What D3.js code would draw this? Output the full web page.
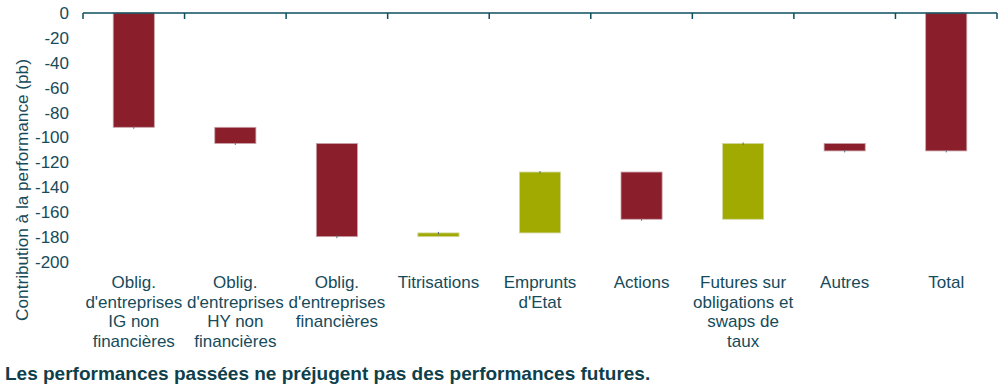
<!DOCTYPE html>
<html><head><meta charset="utf-8">
<script src="https://cdn.jsdelivr.net/npm/d3@7"></script>
<style>body{margin:0;background:#fff}svg{display:block}text{font-family:"Liberation Sans",Arial,sans-serif}</style>
</head><body>
<svg id="c" width="1000" height="390"></svg>
<script>
const categories = [
  ["Oblig.","d'entreprises","IG non","financières"],
  ["Oblig.","d'entreprises","HY non","financières"],
  ["Oblig.","d'entreprises","financières"],
  ["Titrisations"],
  ["Emprunts","d'Etat"],
  ["Actions"],
  ["Futures sur","obligations et","swaps de","taux"],
  ["Autres"],
  ["Total"]
];
const contributions = [-92, -13, -75, 3, 49, -38, 61, -6];
const totalValue = -111;
const yTicks = [0,-20,-40,-60,-80,-100,-120,-140,-160,-180,-200];
const yTitle = "Contribution à la performance (pb)";
const footer = "Les performances passées ne préjugent pas des performances futures.";

const RED = "#8A1F2B", GREEN = "#A0AA00", TXT = "#164B5B", AX = "#0B4F5C";

// build waterfall
let run = 0;
const bars = contributions.map((v,i)=>{ const s=run; run+=v; return {i, start:s, end:run, v}; });
bars.push({i:contributions.length, start:0, end:totalValue, v:totalValue});

const svg = d3.select("#c");
const keys = categories.map((c,i)=>i);
const x0 = d3.scaleBand().domain(keys).range([83,997]).padding(0);
const y = d3.scaleLinear().domain([0,-200]).range([13,261.5]);
const barW = x0.bandwidth()*0.405;

// bars
svg.append("g").selectAll("rect").data(bars).join("rect")
  .attr("x", d=>x0(d.i)+x0.bandwidth()/2-barW/2)
  .attr("y", d=>y(Math.max(d.start,d.end)))
  .attr("width", barW)
  .attr("height", d=>Math.abs(y(d.start)-y(d.end)))
  .attr("fill", d=>d.v<0?RED:GREEN)
  .attr("stroke", d=>d.v<0?"#C9A3A8":"#D2D6A0")
  .attr("stroke-width",0.8);

// small connector marks
svg.append("g").selectAll("line").data(bars).join("line")
  .attr("x1", d=>x0(d.i)+x0.bandwidth()/2).attr("x2", d=>x0(d.i)+x0.bandwidth()/2)
  .attr("y1", d=>y(d.end)-1).attr("y2", d=>y(d.end)+1.5)
  .attr("stroke","#5B6F78").attr("stroke-width",1);

// x axis line at 0 with boundary ticks
const ax = svg.append("g");
ax.append("line").attr("x1",x0.range()[0]).attr("x2",x0.range()[1]).attr("y1",y(0)).attr("y2",y(0))
  .attr("stroke",AX).attr("stroke-width",1.5);
const bounds = keys.map(k=>x0(k)).concat([x0.range()[1]]);
ax.selectAll("line.t").data(bounds).join("line").attr("class","t")
  .attr("x1",d=>d).attr("x2",d=>d).attr("y1",y(0)).attr("y2",y(0)+6)
  .attr("stroke",AX).attr("stroke-width",1.5);

// category labels
const lab = svg.append("g").attr("fill",TXT).attr("font-size",17).attr("text-anchor","middle");
categories.forEach((lines,i)=>{
  const t = lab.append("text").attr("x", x0(i)+x0.bandwidth()/2).attr("y",288);
  lines.forEach((l,j)=>t.append("tspan").attr("x", x0(i)+x0.bandwidth()/2).attr("y",288+j*19.7).text(l));
});

// y tick labels
svg.append("g").attr("fill",TXT).attr("font-size",17).attr("text-anchor","end")
  .selectAll("text").data(yTicks).join("text")
  .attr("x",69).attr("y",d=>y(d)).attr("dy","0.36em").text(d=>d);

// y title
svg.append("text").attr("transform","translate(28,190) rotate(-90)")
  .attr("text-anchor","middle").attr("fill",TXT).attr("font-size",17.2).text(yTitle);

// footer
svg.append("text").attr("x",5).attr("y",380).attr("fill","#0E3F4C")
  .attr("font-size",19).attr("font-weight","bold").text(footer);
</script>
</body></html>
